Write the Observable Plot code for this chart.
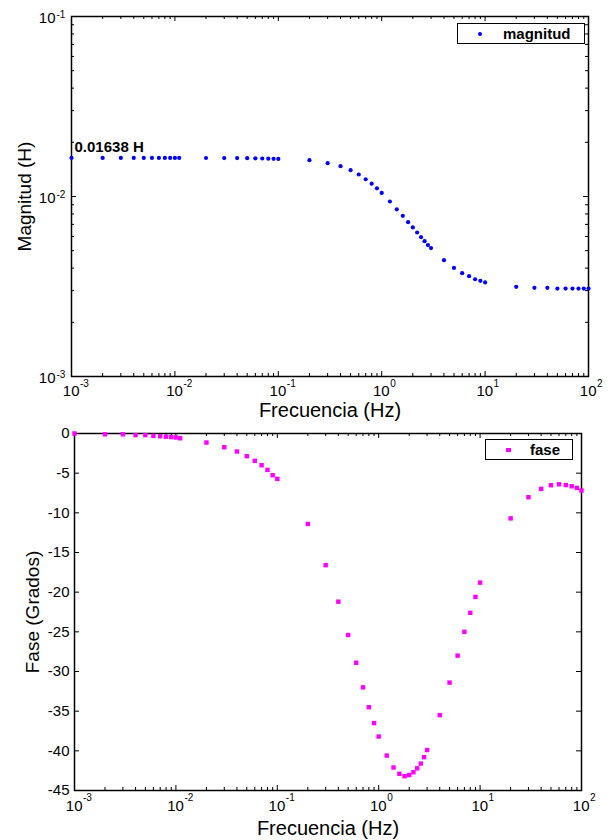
<!DOCTYPE html>
<html><head><meta charset="utf-8">
<script src="https://cdn.jsdelivr.net/npm/d3@7"></script>
<script src="https://cdn.jsdelivr.net/npm/@observablehq/plot@0.6"></script>
<style>
body{margin:0;background:#fff;}
#wrap{position:relative;width:611px;height:840px;font-family:"Liberation Sans",Arial,Helvetica,sans-serif;background:#fff;}
#wrap svg{display:block;}
.legend{position:absolute;border:1.5px solid #000;background:#fff;box-sizing:border-box;font-weight:bold;font-size:15px;color:#000;}
.legend .lbl{position:absolute;top:1px;line-height:17px;}
.legend .mk{position:absolute;}
</style></head><body><div id="wrap"></div>
<script>
// ---- data ----
const freq = [0.001,0.002,0.003,0.004,0.005,0.006,0.007,0.008,0.009,0.01,0.011,
  0.02,0.03,0.04,0.05,0.06,0.07,0.08,0.09,0.1,
  0.2,0.3,0.4,0.5,0.6,0.7,0.8,0.9,1.0,
  1.2,1.4,1.6,1.8,2.0,2.2,2.4,2.6,2.8,3.0,
  4,5,6,7,8,9,10,
  20,30,40,50,60,70,80,90,100];
const magnitud = [0.01638,0.01638,0.01638,0.01638,0.01638,0.01637,0.01637,0.01637,0.01637,0.01637,0.01637,
  0.01636,0.01635,0.01634,0.01632,0.01629,0.01626,0.01622,0.01619,0.01617,
  0.01592,0.01531,0.01473,0.01400,0.01325,0.01247,0.01179,0.01110,0.01047,
  0.00938,0.00849,0.00781,0.00720,0.00673,0.00631,0.00594,0.00565,0.00537,0.00517,
  0.00443,0.00401,0.00375,0.00361,0.00347,0.00340,0.00333,
  0.00315,0.00311,0.00311,0.00308,0.00308,0.00308,0.00308,0.00308,0.00308];
const fase = [0,-0.1,-0.1,-0.2,-0.2,-0.3,-0.35,-0.4,-0.45,-0.5,-0.6,
  -1.14,-1.73,-2.27,-2.86,-3.45,-4.0,-4.59,-5.26,-5.72,
  -11.4,-16.6,-21.2,-25.4,-28.9,-32.0,-34.5,-36.5,-38.2,
  -40.6,-42.1,-42.9,-43.2,-43.05,-42.7,-42.2,-41.6,-40.8,-39.9,
  -35.5,-31.4,-28.0,-25.0,-22.6,-20.6,-18.8,
  -10.7,-8.03,-6.98,-6.52,-6.4,-6.5,-6.65,-6.86,-7.19];
const xDecades = [1e-3,1e-2,1e-1,1,10,100];
const xExponents = ["-3","-2","-1","0","1","2"];
const magDecades = [1e-3,1e-2,1e-1];
const magExponents = ["-3","-2","-1"];
const phaseTicks = [0,-5,-10,-15,-20,-25,-30,-35,-40,-45];
const phaseTickLabels = ["0","-5","-10","-15","-20","-25","-30","-35","-40","-45"];
const xLabel = "Frecuencia (Hz)";
const magLabel = "Magnitud (H)";
const phaseLabel = "Fase (Grados)";
const annotation = "0.01638 H";
const magLegend = "magnitud";
const phaseLegend = "fase";

// ---- helpers ----
function minorsOf(decades){ const out=[]; for(let i=0;i<decades.length-1;i++){ for(let k=2;k<=9;k++) out.push(k*decades[i]); } return out; }
const xMinor = minorsOf(xDecades);
const magMinor = minorsOf(magDecades);
const FONT = "Liberation Sans, Arial, Helvetica, sans-serif";
const W = 611;
const MAJ = 5, MIN = 3;

const magData = freq.map((f,i)=>({f, v: magnitud[i]}));
const phData = freq.map((f,i)=>({f, v: fase[i]}));

function frameTicks(iw, ih, yMajor, yMinor){
  const m = [
    Plot.tickX(xDecades, {x: d=>d, insetTop: ih-MAJ, stroke:"#000"}),
    Plot.tickX(xDecades, {x: d=>d, insetBottom: ih-MAJ, stroke:"#000"}),
    Plot.tickX(xMinor, {x: d=>d, insetTop: ih-MIN, stroke:"#000"}),
    Plot.tickX(xMinor, {x: d=>d, insetBottom: ih-MIN, stroke:"#000"}),
    Plot.tickY(yMajor, {y: d=>d, insetRight: iw-MAJ, stroke:"#000"}),
    Plot.tickY(yMajor, {y: d=>d, insetLeft: iw-MAJ, stroke:"#000"})
  ];
  if (yMinor) m.push(
    Plot.tickY(yMinor, {y: d=>d, insetRight: iw-MIN, stroke:"#000"}),
    Plot.tickY(yMinor, {y: d=>d, insetLeft: iw-MIN, stroke:"#000"}));
  return m;
}
function xTickLabels(dyBase, dyExp){
  return [
    Plot.text(xDecades, {x: d=>d, frameAnchor:"bottom", text: ()=>"10", textAnchor:"end", lineAnchor:"bottom", dx: 8, dy: dyBase, fontSize: 15, fill:"#000"}),
    Plot.text(xDecades, {x: d=>d, frameAnchor:"bottom", text: (d,i)=>xExponents[i], textAnchor:"start", lineAnchor:"bottom", dx: 8.5, dy: dyExp, fontSize: 10, fill:"#000"})
  ];
}

// ---- top: magnitude ----
const t = {h: 420, ml: 71, mr: 23, mt: 16, mb: 44};
const tiw = W - t.ml - t.mr, tih = t.h - t.mt - t.mb;
const topPlot = Plot.plot({
  width: W, height: t.h, marginLeft: t.ml, marginRight: t.mr, marginTop: t.mt, marginBottom: t.mb,
  style: {fontFamily: FONT, fontSize: "15px", color: "#000", background: "#fff", overflow: "visible"},
  x: {type: "log", domain: [1e-3, 1e2], axis: null},
  y: {type: "log", domain: [1e-3, 1e-1], axis: null},
  marks: [
    ...frameTicks(tiw, tih, magDecades, magMinor),
    Plot.frame({stroke: "#000", strokeWidth: 1.5}),
    Plot.dot(magData, {x: "f", y: "v", r: 2.1, fill: "#0000ff", stroke: null}),
    Plot.text([magData[0]], {x: "f", y: "v", text: ()=>annotation, textAnchor: "start", lineAnchor: "bottom", dx: 3, dy: -5.5, fontSize: 15, fontWeight: "bold", fill: "#000"}),
    ...xTickLabels(19.5, 10.5),
    Plot.text(magDecades, {y: d=>d, frameAnchor:"left", text: ()=>"10", textAnchor:"end", lineAnchor:"bottom", dx: -16, dy: 6.7, fontSize: 15, fill:"#000"}),
    Plot.text(magDecades, {y: d=>d, frameAnchor:"left", text: (d,i)=>magExponents[i], textAnchor:"start", lineAnchor:"bottom", dx: -15, dy: 1, fontSize: 10, fill:"#000"}),
    Plot.text([xLabel], {frameAnchor: "bottom", textAnchor: "middle", lineAnchor: "bottom", dy: 40, fontSize: 20, fill:"#000"}),
    Plot.text([magLabel], {frameAnchor: "left", textAnchor: "middle", rotate: -90, lineAnchor: "middle", dx: -47, fontSize: 19, fill:"#000"})
  ]
});

// ---- bottom: phase ----
const b = {h: 420, ml: 74, mr: 30, mt: 13, mb: 50};
const biw = W - b.ml - b.mr, bih = b.h - b.mt - b.mb;
const botPlot = Plot.plot({
  width: W, height: b.h, marginLeft: b.ml, marginRight: b.mr, marginTop: b.mt, marginBottom: b.mb,
  style: {fontFamily: FONT, fontSize: "15px", color: "#000", background: "#fff", overflow: "visible"},
  x: {type: "log", domain: [1e-3, 1e2], axis: null},
  y: {type: "linear", domain: [-45, 0], axis: null},
  marks: [
    ...frameTicks(biw, bih, phaseTicks, null),
    Plot.frame({stroke: "#000", strokeWidth: 1.5}),
    Plot.dot(phData, {x: "f", y: "v", symbol: "square", r: 2.5, fill: "#ff00ff", stroke: null}),
    ...xTickLabels(20.5, 10.5),
    Plot.text(phaseTicks, {y: d=>d, frameAnchor:"left", text: (d,i)=>phaseTickLabels[i], textAnchor:"end", lineAnchor:"middle", dx: -5, fontSize: 15, fill:"#000"}),
    Plot.text([xLabel], {frameAnchor: "bottom", textAnchor: "middle", lineAnchor: "bottom", dy: 44, fontSize: 20, fill:"#000"}),
    Plot.text([phaseLabel], {frameAnchor: "left", textAnchor: "middle", rotate: -90, lineAnchor: "middle", dx: -42, fontSize: 19, fill:"#000"})
  ]
});

const wrap = document.getElementById("wrap");
wrap.appendChild(topPlot);
wrap.appendChild(botPlot);

// ---- legends ----
function legend(left, top, w, h, label, marker, textLeft){
  const d = document.createElement("div");
  d.className = "legend";
  Object.assign(d.style, {left: left+"px", top: top+"px", width: w+"px", height: h+"px"});
  const mk = document.createElement("span");
  mk.className = "mk";
  Object.assign(mk.style, marker);
  const lb = document.createElement("span");
  lb.className = "lbl";
  lb.style.left = textLeft + "px";
  lb.textContent = label;
  d.appendChild(mk); d.appendChild(lb);
  wrap.appendChild(d);
}
legend(457, 23, 128, 21, magLegend, {left:"20px", top:"7.5px", width:"4px", height:"4px", borderRadius:"50%", background:"#0000ff"}, 45);
legend(485, 439, 88, 21, phaseLegend, {left:"20px", top:"7.5px", width:"4.5px", height:"4.5px", background:"#ff00ff"}, 44);
</script>
</body></html>
